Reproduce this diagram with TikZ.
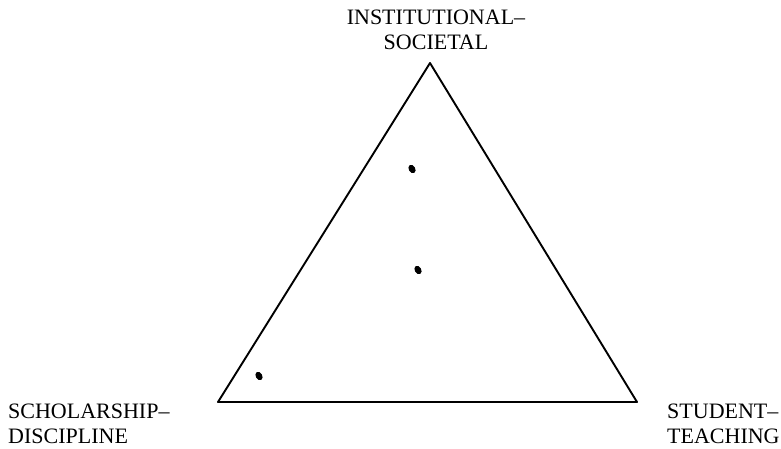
\documentclass[tikz,border=0pt]{standalone}
\usepackage{fontspec}
\setmainfont{Liberation Serif}
\usetikzlibrary{positioning,shapes.geometric}
\tikzset{
  side/.style  ={line width=1.9pt,line join=round},
  pole/.style  ={font=\fontsize{22}{25}\selectfont,inner sep=0pt},
  spot/.style  ={fill=black,ellipse,inner sep=0pt,minimum width=6.5pt,
                 minimum height=9pt,rotate=30},
}

\begin{document}
\begin{tikzpicture}[x=1pt,y=-1pt]
  \useasboundingbox (0,0) rectangle (781,448);
  \coordinate (top)   at (430,63);
  \coordinate (left)  at (218,402);
  \coordinate (right) at (637,402);

  \draw[side] (top) -- (left) -- (right) -- cycle;

  \node[pole,align=center,anchor=north] (inst) at (436,10)
    {INSTITUTIONAL–\\SOCIETAL};
  \node[pole,align=left,anchor=north west] (schol) at (8,404)
    {SCHOLARSHIP–\\DISCIPLINE};
  \node[pole,align=left,anchor=north west] (stud) at (667,404)
    {STUDENT–\\TEACHING};

  \node[spot] (d1) at (412,169) {};
  \node[spot] (d2) at (418,270) {};
  \node[spot] (d3) at (259,376) {};
\end{tikzpicture}
\end{document}
